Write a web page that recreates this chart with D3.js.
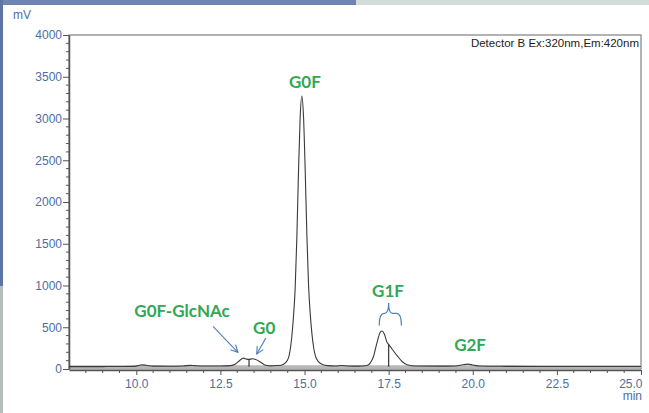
<!DOCTYPE html>
<html>
<head>
<meta charset="utf-8">
<script src="https://cdn.jsdelivr.net/npm/d3@7"></script>
<style>
  body { margin: 0; background: #fff; }
  .tick text { font-family: "Liberation Sans", Arial, sans-serif; font-size: 12px; fill: #4d6ea3; }
</style>
</head>
<body>
<script>
// chromatogram trace (min, mV)
var times = [8.0, 8.5, 9.0, 9.5, 9.9, 10.05, 10.17, 10.3, 10.5, 11.0, 11.4, 11.6, 11.75, 12.0, 12.5,
  12.8, 12.95, 13.08, 13.18, 13.28, 13.35, 13.45, 13.55, 13.7, 13.85, 14.0, 14.2, 14.3, 14.42, 14.52,
  14.57, 14.62, 14.67, 14.72, 14.77, 14.82, 14.87, 14.92, 14.97, 15.02, 15.07, 15.12, 15.17, 15.22,
  15.27, 15.32, 15.42, 15.55, 15.7, 15.9, 16.1, 16.3, 16.6, 16.85, 16.95, 17.05, 17.15, 17.25, 17.3,
  17.38, 17.45, 17.5, 17.6, 17.75, 17.9, 18.05, 18.3, 19.0, 19.5, 19.7, 19.85, 20.0, 20.2, 21.0,
  22.0, 23.0, 24.0, 25.0]
var mv = [28, 28, 29, 30, 31, 40, 50, 44, 34, 33, 36, 44, 40, 36, 36,
  40, 60, 105, 130, 118, 115, 122, 115, 80, 45, 38, 42, 45, 70, 130,
  220, 380, 620, 950, 1550, 2350, 3010, 3270, 3020, 2380, 1600, 1000, 660, 420,
  260, 160, 85, 50, 40, 36, 42, 36, 34, 42, 70, 150, 310, 440, 455,
  410, 320, 295, 240, 160, 90, 52, 36, 34, 36, 50, 58, 48, 36, 32,
  30, 30, 30, 30]

var dropTimes = [13.35, 17.5]

var peakNames = ["G0F-GlcNAc", "G0", "G0F", "G1F", "G2F"]
var peakLabelT = [11.36, 13.8, 15.01, 17.48, 19.92]
var peakLabelV = [620, 420, 3365, 862, 215]

var xTicks = [10.0, 12.5, 15.0, 17.5, 20.0, 22.5, 25.0]
var yTicks = [0, 500, 1000, 1500, 2000, 2500, 3000, 3500, 4000]

var W = 649, H = 413
var plotL = 69, plotR = 641, plotT = 35, plotB = 369

var svg = d3.select("body").append("svg")
  .attr("width", W)
  .attr("height", H)

// window decoration strips
svg.append("rect").attr("x", 0).attr("y", 0).attr("width", 356).attr("height", 5).attr("fill", "#6f84b2")
svg.append("rect").attr("x", 356).attr("y", 0).attr("width", 293).attr("height", 5).attr("fill", "#d3dbdb")
svg.append("rect").attr("x", 0).attr("y", 0).attr("width", 3).attr("height", 286).attr("fill", "#5f74a3")
svg.append("rect").attr("x", 0).attr("y", 286).attr("width", 3).attr("height", 127).attr("fill", "#b5bdbd")

var x = d3.scaleLinear().domain([8, 25]).range([plotL, plotR])
var y = d3.scaleLinear().domain([0, 4000]).range([plotB, plotT])

// frame
svg.append("rect")
  .attr("x", plotL)
  .attr("y", plotT)
  .attr("width", plotR - plotL)
  .attr("height", plotB - plotT)
  .attr("fill", "none")
  .attr("stroke", "#808080")
  .attr("stroke-width", 1.2)

// light baseline band
svg.append("line")
  .attr("x1", plotL).attr("x2", plotR)
  .attr("y1", y(28)).attr("y2", y(28))
  .attr("stroke", "#b8b8b8")
  .attr("stroke-width", 3)

// y axis
var yAxis = svg.append("g")
  .attr("transform", "translate(" + plotL + ",0)")
  .call(d3.axisLeft(y).tickValues(yTicks).tickFormat(d3.format("d")).tickSize(6).tickSizeOuter(0).tickPadding(1))
yAxis.select(".domain").attr("stroke", "#555").attr("stroke-width", 1.5)
yAxis.selectAll(".tick line").attr("stroke", "#555")

svg.append("g")
  .selectAll("line")
  .data(d3.range(0, 4001, 100).filter(function(d){ return d % 500 != 0 }))
  .enter()
  .append("line")
  .attr("x1", plotL - 3).attr("x2", plotL + 1)
  .attr("y1", function(d){ return y(d) })
  .attr("y2", function(d){ return y(d) })
  .attr("stroke", "#555")

// x axis
var xAxis = svg.append("g")
  .attr("transform", "translate(0," + (plotB + 1) + ")")
  .call(d3.axisBottom(x).tickValues(xTicks).tickFormat(d3.format(".1f")).tickSize(5).tickSizeOuter(0).tickPadding(4))
xAxis.select(".domain").attr("stroke", "#555").attr("stroke-width", 1.5)
xAxis.selectAll(".tick line").attr("stroke", "#555")
// last label sits left of its tick so it stays inside the window
xAxis.selectAll(".tick text")
  .filter(function(d){ return d == 25 })
  .attr("text-anchor", "end")
  .attr("dx", 1)

svg.append("g")
  .selectAll("line")
  .data(d3.range(8.5, 25, 0.5).filter(function(d){ return d % 2.5 != 0 }))
  .enter()
  .append("line")
  .attr("x1", function(d){ return x(d) })
  .attr("x2", function(d){ return x(d) })
  .attr("y1", plotB + 1).attr("y2", plotB + 4)
  .attr("stroke", "#555")

svg.append("text")
  .attr("x", 13).attr("y", 19)
  .attr("font-family", "Liberation Sans, Arial, sans-serif")
  .attr("font-size", 12)
  .attr("fill", "#4d6ea3")
  .text("mV")

svg.append("text")
  .attr("x", plotR + 1).attr("y", 400)
  .attr("text-anchor", "end")
  .attr("font-family", "Liberation Sans, Arial, sans-serif")
  .attr("font-size", 12)
  .attr("fill", "#4d6ea3")
  .text("min")

svg.append("text")
  .attr("x", plotR - 2).attr("y", 47)
  .attr("text-anchor", "end")
  .attr("font-family", "Liberation Sans, Arial, sans-serif")
  .attr("font-size", 11.5)
  .attr("fill", "#222")
  .text("Detector B Ex:320nm,Em:420nm")

// trace
var pts = times.map(function(t, i){ return [t, mv[i]] })
var line = d3.line()
  .x(function(d){ return x(d[0]) })
  .y(function(d){ return y(d[1]) })
  .curve(d3.curveMonotoneX)

svg.append("path")
  .datum(pts)
  .attr("d", line)
  .attr("fill", "none")
  .attr("stroke", "#3a3a3a")
  .attr("stroke-width", 1.1)

// drop lines
svg.selectAll("line.drop")
  .data(dropTimes)
  .enter()
  .append("line")
  .classed("drop", true)
  .attr("x1", function(d){ return x(d) })
  .attr("x2", function(d){ return x(d) })
  .attr("y1", y(28))
  .attr("y2", function(d){ return y(mv[times.indexOf(d)]) })
  .attr("stroke", "#333")
  .attr("stroke-width", 1.2)

// peak labels
svg.selectAll("text.peak")
  .data(peakNames)
  .enter()
  .append("text")
  .classed("peak", true)
  .attr("x", function(d, i){ return x(peakLabelT[i]) })
  .attr("y", function(d, i){ return y(peakLabelV[i]) })
  .attr("text-anchor", "middle")
  .attr("font-family", "Lato, 'Open Sans', sans-serif")
  .attr("font-weight", "bold")
  .attr("font-size", 17)
  .attr("fill", "#31a852")
  .text(function(d){ return d })

// arrows
svg.append("defs").append("marker")
  .attr("id", "arr")
  .attr("viewBox", "0 0 10 10")
  .attr("refX", 9).attr("refY", 5)
  .attr("markerWidth", 8).attr("markerHeight", 8)
  .attr("orient", "auto")
  .append("path")
  .attr("d", "M1,1 L9,5 L1,9")
  .attr("fill", "none")
  .attr("stroke", "#4f7fbf")
  .attr("stroke-width", 1.3)

var arrowFrom = [[12.28, 510], [13.85, 370]]
var arrowTo = [[13.02, 200], [13.58, 180]]

svg.selectAll("line.arrow")
  .data(arrowFrom)
  .enter()
  .append("line")
  .classed("arrow", true)
  .attr("x1", function(d){ return x(d[0]) })
  .attr("y1", function(d){ return y(d[1]) })
  .attr("x2", function(d, i){ return x(arrowTo[i][0]) })
  .attr("y2", function(d, i){ return y(arrowTo[i][1]) })
  .attr("stroke", "#4f7fbf")
  .attr("stroke-width", 1.1)
  .attr("marker-end", "url(#arr)")

// curly brace over G1F
var bx0 = x(17.22), bx1 = x(17.88), bm = x(17.5)
var byTop = y(790), byMid = y(665), byEnd = y(520)
svg.append("path")
  .attr("d", "M" + bx0 + "," + byEnd +
    " Q" + bx0 + "," + byMid + " " + (bx0 + 5) + "," + byMid +
    " L" + (bm - 4) + "," + byMid +
    " Q" + bm + "," + byMid + " " + bm + "," + byTop +
    " Q" + bm + "," + byMid + " " + (bm + 4) + "," + byMid +
    " L" + (bx1 - 5) + "," + byMid +
    " Q" + bx1 + "," + byMid + " " + bx1 + "," + byEnd)
  .attr("fill", "none")
  .attr("stroke", "#4f7fbf")
  .attr("stroke-width", 1.2)
</script>
</body>
</html>
